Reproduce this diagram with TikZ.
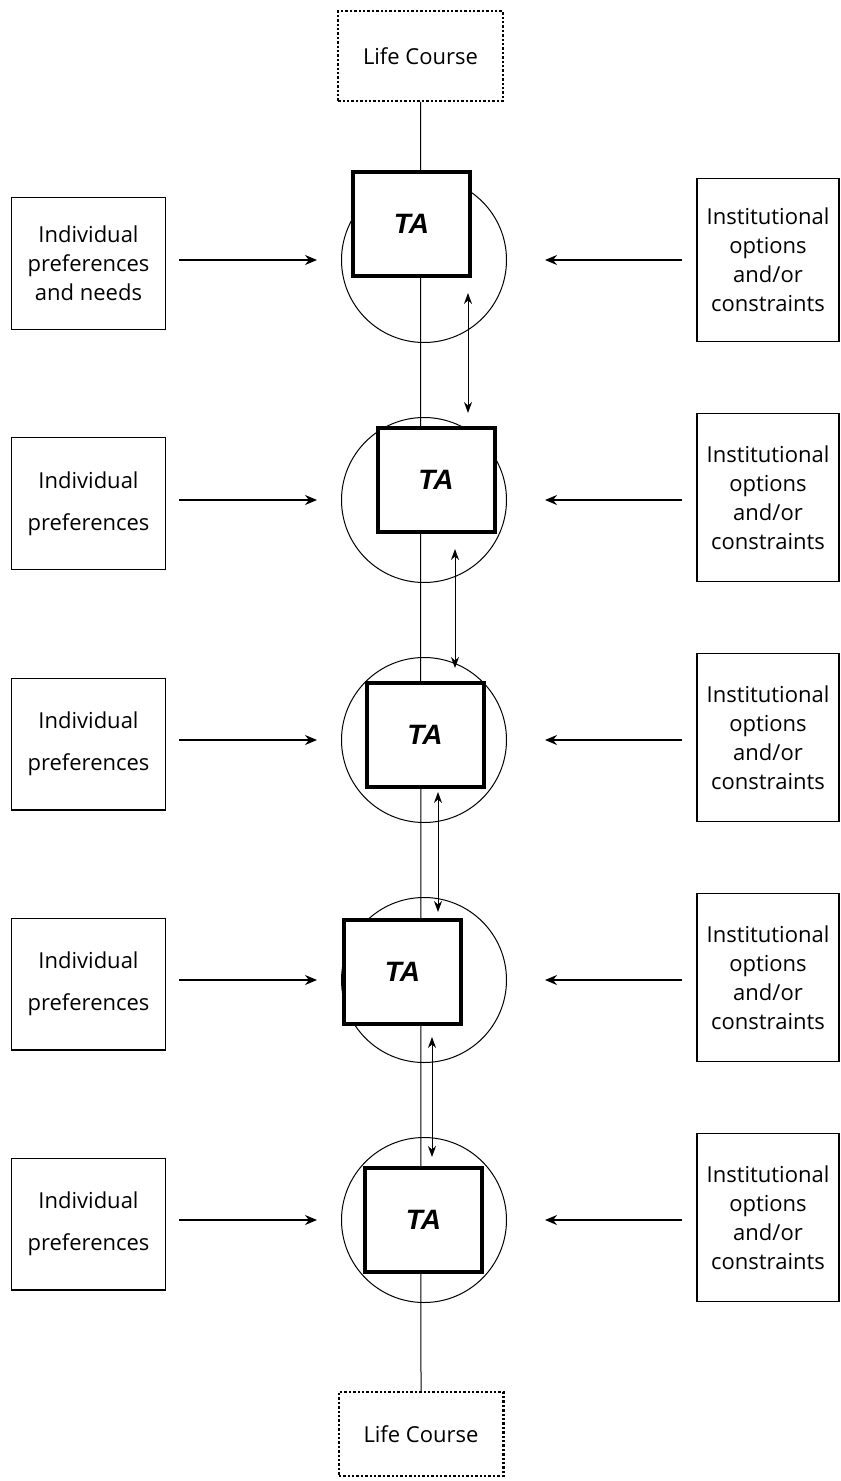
\documentclass[tikz,border=0pt]{standalone}
\usepackage{fontspec}
\setmainfont{Open Sans}
\newfontfamily\tafont{Liberation Sans}
\usetikzlibrary{positioning, arrows.meta}

\tikzset{
    sidebox/.style = {draw, line width = 0.7pt, align = center, inner sep = 0pt, font = \fontsize{11}{14.5}\selectfont},
    indbox/.style = {sidebox, minimum width = 76.8pt, minimum height = 65.8pt},
    indpref/.style = {indbox, font = \fontsize{11}{21}\selectfont},
    instbox/.style = {sidebox, minimum width = 71pt, minimum height = 84pt},
    lifebox/.style = {draw, densely dotted, line width = 1.2pt, minimum width = 82.3pt, minimum height = 44.8pt, font = \fontsize{11}{14}\selectfont},
    ring/.style = {draw, circle, line width = 0.5pt, minimum size = 82.5pt, inner sep = 0pt},
    tabox/.style = {draw, fill = white, line width = 2pt, minimum width = 58.5pt, minimum height = 52pt, font = \tafont\fontsize{14}{16}\selectfont\bfseries\itshape},
    flow/.style = {-{Stealth[length = 6pt, width = 5pt]}, line width = 0.6pt},
    link/.style = {{Stealth[length = 5.5pt, width = 4pt]}-{Stealth[length = 5.5pt, width = 4pt]}, line width = 0.5pt}
}

\begin{document}
\begin{tikzpicture}[x = 0.5pt, y = -0.5pt]
                \useasboundingbox (0, 0) rectangle (840, 1481);

                % life course ends and the time line
                \node [lifebox] (lifetop) at (420.5, 56) {Life Course};
                \node [lifebox, minimum height = 41.8pt] (lifebot) at (421, 1434) {Life Course};

                \node [ring] (ring1) at (424, 260) {};
                \node [ring] (ring2) at (424, 500) {};
                \node [ring] (ring3) at (424, 740) {};
                \node [ring] (ring4) at (424, 980) {};
                \node [ring] (ring5) at (424, 1220) {};

                \draw [line width = 0.5pt] (lifetop.south) -- (lifebot.north);

                % transitions
                \node [tabox] (ta1) at (411.5, 224) {TA};
                \node [tabox] (ta2) at (436, 480) {TA};
                \node [tabox] (ta3) at (425, 734.5) {TA};
                \node [tabox] (ta4) at (402.5, 972) {TA};
                \node [tabox] (ta5) at (423.5, 1220) {TA};

                % left side
                \node [indbox] (ind1) at (88.5, 263.5) {Individual\\preferences\\and needs};
                \node [indpref] (ind2) at (88.5, 503.5) {Individual\\preferences};
                \node [indpref] (ind3) at (88.5, 744) {Individual\\preferences};
                \node [indpref] (ind4) at (88.5, 984) {Individual\\preferences};
                \node [indpref] (ind5) at (88.5, 1224) {Individual\\preferences};

                % right side
                \node [instbox, minimum height = 81.3pt] (inst1) at (768, 260) {Institutional\\options\\and/or\\constraints};
                \node [instbox] (inst2) at (768, 497.5) {Institutional\\options\\and/or\\constraints};
                \node [instbox] (inst3) at (768, 737.5) {Institutional\\options\\and/or\\constraints};
                \node [instbox] (inst4) at (768, 977.5) {Institutional\\options\\and/or\\constraints};
                \node [instbox] (inst5) at (768, 1217.5) {Institutional\\options\\and/or\\constraints};

                \draw [flow, shorten <= 6.5pt, shorten >= 12pt] (ind1.east |- ring1) -- (ring1.west);
                \draw [flow, shorten <= 6.5pt, shorten >= 12pt] (ind2.east |- ring2) -- (ring2.west);
                \draw [flow, shorten <= 6.5pt, shorten >= 12pt] (ind3.east |- ring3) -- (ring3.west);
                \draw [flow, shorten <= 6.5pt, shorten >= 12pt] (ind4.east |- ring4) -- (ring4.west);
                \draw [flow, shorten <= 6.5pt, shorten >= 12pt] (ind5.east |- ring5) -- (ring5.west);

                \draw [flow, shorten <= 7pt, shorten >= 19pt] (inst1.west |- ring1) -- (ring1.east);
                \draw [flow, shorten <= 7pt, shorten >= 19pt] (inst2.west |- ring2) -- (ring2.east);
                \draw [flow, shorten <= 7pt, shorten >= 19pt] (inst3.west |- ring3) -- (ring3.east);
                \draw [flow, shorten <= 7pt, shorten >= 19pt] (inst4.west |- ring4) -- (ring4.east);
                \draw [flow, shorten <= 7pt, shorten >= 19pt] (inst5.west |- ring5) -- (ring5.east);

                % links between successive transitions
                \coordinate (link1a) at (468, 293);
                \coordinate (link1b) at (468, 413);
                \coordinate (link2a) at (455, 549);
                \coordinate (link2b) at (455, 668);
                \coordinate (link3a) at (438, 792);
                \coordinate (link3b) at (438, 912);
                \coordinate (link4a) at (432, 1037);
                \coordinate (link4b) at (432, 1157);

                \draw [link] (link1a) -- (link1b);
                \draw [link] (link2a) -- (link2b);
                \draw [link] (link3a) -- (link3b);
                \draw [link] (link4a) -- (link4b);
            \end{tikzpicture}
\end{document}
